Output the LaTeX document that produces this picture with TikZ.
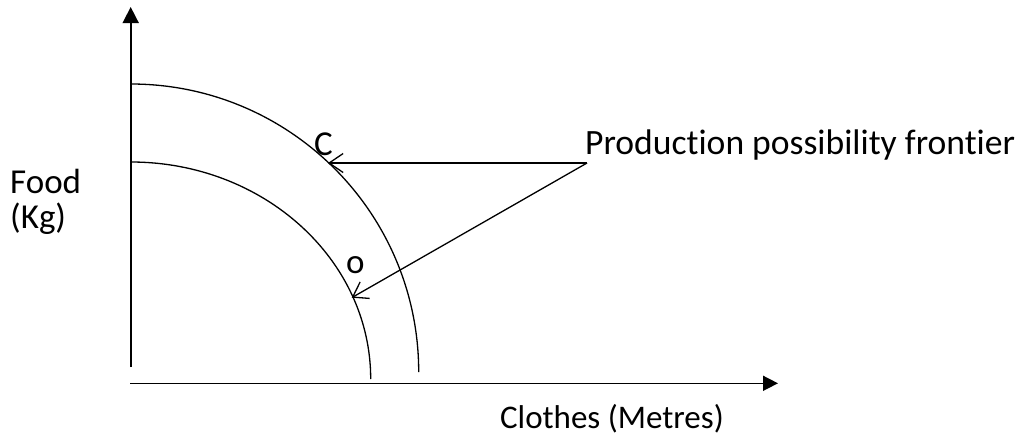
\documentclass[tikz,border=0pt]{standalone}
\usepackage{fontspec}
\setmainfont{Carlito}[RawFeature={-liga}]
\usetikzlibrary{arrows.meta}
\begin{document}
\begin{tikzpicture}[x=1pt,y=-1pt,
  lbl/.style={inner sep=0pt,font=\fontsize{35}{37}\selectfont},
  axis/.style={line width=1.6pt},
  curve/.style={line width=1.3pt},
  pointer/.style={line width=1.3pt,-{Straight Barb[length=14pt,width=19pt]}}]
\useasboundingbox (0,0) rectangle (1018,437);
% axes
\coordinate (yb) at (130.7,367);
\coordinate (yt) at (130.7,7);
\coordinate (xl) at (130,383.3);
\coordinate (xr) at (778,383.3);
\draw[axis,-{Triangle[length=16pt,width=16pt]}] (yb) -- (yt);
\draw[axis,-{Triangle[length=15pt,width=15pt]}] (xl) -- (xr);
% frontiers
\coordinate (outerstart) at (130.7,84);
\coordinate (innerstart) at (130.7,162);
\draw[curve] (outerstart) arc[start angle=-90,end angle=0,x radius=288,y radius=288];
\draw[curve] (innerstart) arc[start angle=-90,end angle=0,x radius=240,y radius=217];
% labels
\node[lbl,anchor=base west] (food) at (10,193) {Food};
\node[lbl,anchor=base west] (kg) at (10,228) {(Kg)};
\node[lbl,anchor=base east,font=\fontsize{33}{35}\selectfont] (clothes) at (724,428) {Clothes (Metres)};
\node[lbl,anchor=base west,font=\fontsize{35.6}{37}\selectfont] (ppf) at (585,154) {Production possibility frontier};
\node[lbl,anchor=base west] (c) at (314,155) {C};
\node[lbl,anchor=base west] (o) at (346,273) {o};
% pointers
\coordinate (src) at (587,163);
\coordinate (ctip) at (328,163);
\coordinate (otip) at (351.7,297.7);
\draw[pointer] (src) -- (ctip);
\draw[pointer] (src) -- (otip);
\end{tikzpicture}
\end{document}
